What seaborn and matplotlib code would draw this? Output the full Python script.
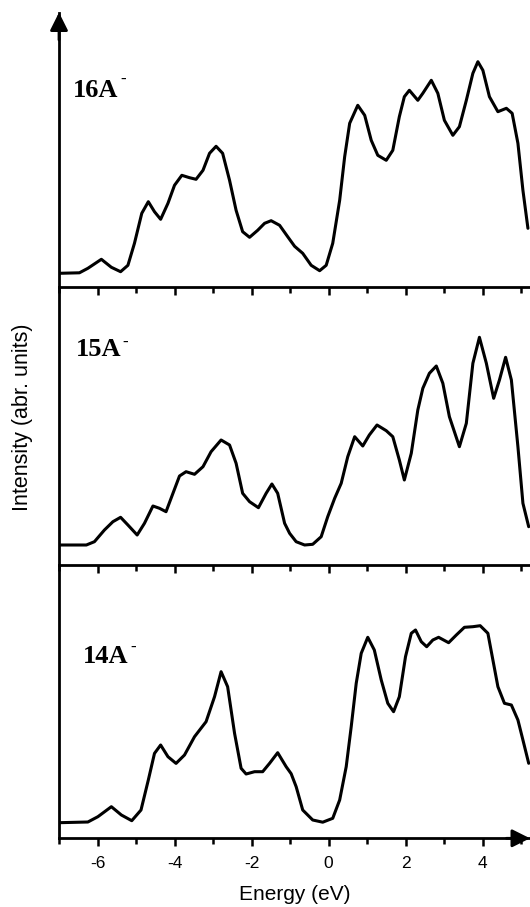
import numpy as np
import pandas as pd
import matplotlib
matplotlib.use("Agg")
import matplotlib.pyplot as plt
import seaborn as sns
from matplotlib.ticker import MultipleLocator, NullLocator

# ---------------- data ----------------
energy_16 = [-6.99, -6.47, -6.25, -5.90, -5.64, -5.40, -5.21, -5.04, -4.85, -4.68, -4.52, -4.36,
             -4.17, -4.00, -3.81, -3.61, -3.44, -3.26, -3.09, -2.92, -2.75, -2.57, -2.40, -2.23,
             -2.05, -1.84, -1.66, -1.49, -1.27, -1.06, -0.88, -0.67, -0.45, -0.23, -0.06, 0.11,
             0.29, 0.42, 0.55, 0.76, 0.94, 1.11, 1.28, 1.50, 1.67, 1.84, 1.97, 2.10, 2.32, 2.45,
             2.67, 2.84, 3.01, 3.23, 3.40, 3.58, 3.75, 3.88, 4.01, 4.18, 4.40, 4.62, 4.77, 4.92,
             5.05, 5.18]
intensity_16 = [0, 0.5, 5, 14, 6, 1.6, 8, 30, 60, 71.6, 61.6, 54, 70, 88, 98, 95.6, 94, 103, 120,
                127, 120, 93, 63, 41.6, 36, 43, 50, 52.6, 48, 36.6, 27, 20, 8, 2.6, 8, 30, 73,
                116.6, 150, 168, 158, 133, 118, 113, 123, 156.6, 176.6, 183, 173, 180, 193, 180,
                153, 138, 146.6, 173, 200, 211.6, 203, 176.6, 161.6, 165, 160, 130, 83, 45]

energy_15 = [-7.0, -6.29, -6.08, -5.82, -5.60, -5.40, -5.21, -4.97, -4.78, -4.56, -4.39, -4.22,
             -4.04, -3.87, -3.70, -3.48, -3.26, -3.05, -2.79, -2.57, -2.40, -2.23, -2.05, -1.82,
             -1.62, -1.47, -1.32, -1.14, -1.01, -0.84, -0.62, -0.41, -0.19, -0.02, 0.16, 0.33,
             0.50, 0.68, 0.89, 1.06, 1.26, 1.50, 1.67, 1.84, 1.97, 2.15, 2.32, 2.45, 2.62, 2.80,
             2.97, 3.14, 3.40, 3.58, 3.75, 3.92, 4.10, 4.29, 4.44, 4.60, 4.75, 4.92, 5.05, 5.20]
intensity_15 = [0, 0, 3.3, 15, 23.3, 27.7, 20, 10, 21.7, 39, 36.7, 33.3, 51.7, 69, 73.3, 70.7,
                78.3, 93.3, 105, 100, 81.7, 51.7, 43.3, 37.3, 51.7, 61, 51.7, 21.7, 11.7, 3.3, 0,
                0.7, 8.3, 28.3, 46.7, 61.7, 88.3, 108.3, 99, 110, 120, 114.3, 108.3, 85, 65, 91.7,
                135, 156.7, 171.7, 179, 161.7, 128.3, 98.3, 121.7, 181.7, 207.7, 181.7, 146.7,
                165, 187.7, 165, 98.3, 41.7, 18.3]

energy_14 = [-7.0, -6.25, -5.99, -5.64, -5.38, -5.11, -4.87, -4.68, -4.52, -4.36, -4.17, -3.96,
             -3.74, -3.48, -3.18, -2.96, -2.79, -2.62, -2.44, -2.27, -2.14, -1.92, -1.71, -1.53,
             -1.32, -1.10, -0.97, -0.84, -0.67, -0.41, -0.15, 0.11, 0.29, 0.46, 0.59, 0.72, 0.85,
             1.02, 1.19, 1.37, 1.54, 1.69, 1.84, 2.00, 2.15, 2.26, 2.41, 2.55, 2.71, 2.86, 3.12,
             3.32, 3.53, 3.75, 3.94, 4.14, 4.27, 4.40, 4.57, 4.75, 4.92, 5.05, 5.20]
intensity_14 = [0, 0.7, 6, 16, 7.7, 2, 12.7, 42.7, 69.3, 77.7, 66, 59.3, 67.7, 86, 101, 126, 151,
                136, 89.4, 54.4, 48.7, 51, 51, 59.4, 70, 56, 49, 36, 12.7, 2.7, 0.5, 4.4, 22.7,
                56, 96, 139.4, 169.4, 185.4, 172.7, 142.7, 119.4, 111, 126, 166, 189.4, 192.7,
                181, 176, 182.7, 185.4, 180, 187.7, 195.4, 196, 197, 189.4, 162.7, 136, 119.4,
                117.7, 102.7, 82.7, 59.4]

panel_names = ["16A", "15A", "14A"]
x_ticks = [-6, -4, -2, 0, 2, 4]
x_label = "Energy (eV)"
y_label = "Intensity (abr. units)"

# ---------------- styling ----------------
sns.set_style("white")
plt.rcParams['font.family'] = ['Liberation Sans', 'DejaVu Sans']
plt.rcParams['axes.unicode_minus'] = False
plt.rcParams['text.color'] = 'black'
plt.rcParams['axes.labelcolor'] = 'black'
plt.rcParams['xtick.color'] = 'black'
plt.rcParams['xtick.labelcolor'] = 'black'

W, H = 530, 907
fig = plt.figure(figsize=(W / 100, H / 100), dpi=100)


def fx(px):
    return px / W


def fy(py):
    return 1 - py / H


left_px, right_px = 59, 530
# (top px, bottom px, ylim)
layout = [
    (12.5, 287.3, (-14, 260.8)),
    (287.3, 565.0, (-20, 257.7)),
    (565.0, 838.3, (-15.6, 257.7)),
]
series = [(energy_16, intensity_16), (energy_15, intensity_15), (energy_14, intensity_14)]
label_pos = [((73, 97.3), (120.5, 84.0)),
             ((75.5, 356.0), (122.0, 346.5)),
             ((83, 663.3), (130.0, 652.0))]

spine_lw = 2.0
axes = []
for i, ((top, bot, ylim), (xs, ys), name, (lp, dp)) in enumerate(zip(layout, series, panel_names, label_pos)):
    ax = fig.add_axes([fx(left_px), fy(bot), fx(right_px) - fx(left_px), fy(top) - fy(bot)])
    ax.patch.set_visible(False)
    df = pd.DataFrame({"Energy": xs, "Intensity": ys})
    sns.lineplot(data=df, x="Energy", y="Intensity", ax=ax, color="black", linewidth=2.2,
                 sort=False, estimator=None, solid_joinstyle="round", solid_capstyle="round")
    ax.set_xlim(-7, -7 + (right_px - left_px) / 38.5)
    ax.set_ylim(*ylim)
    ax.set_xlabel("")
    ax.set_ylabel("")
    ax.yaxis.set_major_locator(NullLocator())
    ax.xaxis.set_major_locator(MultipleLocator(2))
    ax.xaxis.set_minor_locator(MultipleLocator(1))
    for s in ["top", "right"]:
        ax.spines[s].set_visible(False)
    for s in ["left", "bottom"]:
        ax.spines[s].set_linewidth(spine_lw)
        ax.spines[s].set_color("black")
    ax.tick_params(axis="x", which="both", direction="out", bottom=True, top=False,
                   color="black", width=1.8)
    ax.tick_params(axis="x", which="major", length=6)
    ax.tick_params(axis="x", which="minor", length=4.5)
    ax.tick_params(axis="x", labelbottom=(i == 2), labelsize=12.5, pad=7, labelcolor="black")
    # panel label with superscript charge
    fig.text(fx(lp[0]), fy(lp[1]), name, fontfamily="Liberation Serif", fontweight="bold",
             fontsize=19, ha="left", va="baseline", color="black")
    fig.text(fx(dp[0]), fy(dp[1]), "-", fontfamily="Liberation Serif", fontweight="bold",
             fontsize=12, ha="left", va="baseline", color="black")
    axes.append(ax)

ax3 = axes[2]
ax3.set_xticks(x_ticks)
ax3.set_xticklabels([str(t) for t in x_ticks])
ax3.set_xlabel(x_label, fontsize=15, labelpad=10, color="black")

fig.text(fx(23), fy(417), y_label, rotation=90, ha="center", va="center", fontsize=15.5,
         color="black")

# arrows at the ends of the axes
arrow_kw = dict(arrowstyle="-|>,head_length=0.4,head_width=0.2", color="black",
                lw=spine_lw, shrinkA=0, shrinkB=0, mutation_scale=27)
axes[0].annotate("", xy=(0, 1), xytext=(0, 0.9), xycoords="axes fraction",
                 arrowprops=arrow_kw, annotation_clip=False)
ax3.annotate("", xy=(1, 0), xytext=(0.95, 0), xycoords="axes fraction",
             arrowprops=arrow_kw, annotation_clip=False)

fig.savefig("out.png", dpi=100)
